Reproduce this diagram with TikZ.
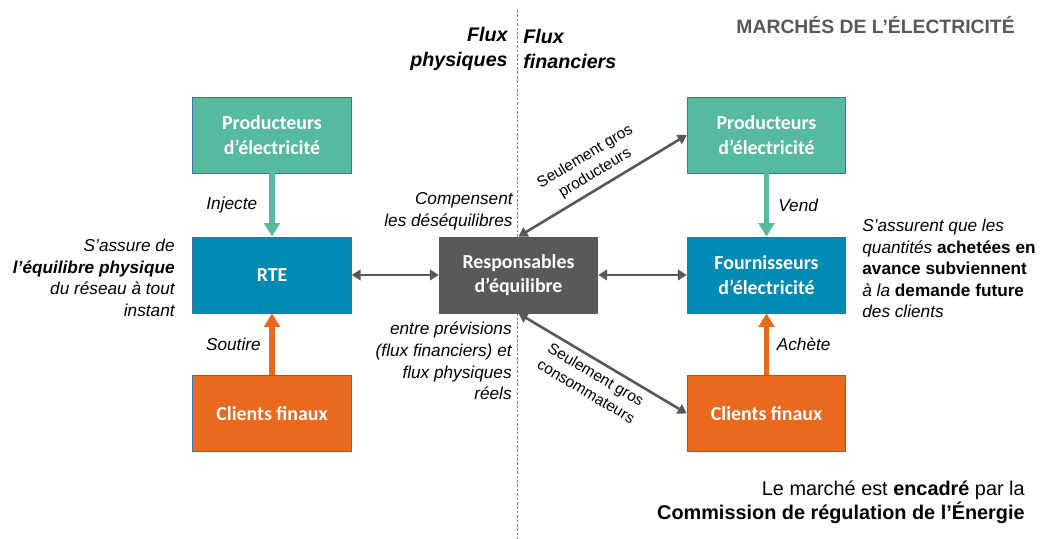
\documentclass[tikz,border=0pt]{standalone}
\usepackage{fontspec}
\setmainfont{Liberation Sans}
\newfontfamily\boxfont{Carlito}
\usetikzlibrary{arrows.meta}

\definecolor{vertprod}{HTML}{56BAA0}
\definecolor{bleurte}{HTML}{008BB4}
\definecolor{orangecli}{HTML}{E9691E}
\definecolor{grisresp}{HTML}{595959}
\definecolor{bordboite}{HTML}{41719C}

\tikzset{
  boite/.style={draw=bordboite, line width=0.5pt, minimum width=3.17cm, minimum height=1.52cm,
    text=white, align=center, font=\boxfont\bfseries\fontsize{11.3}{14}\selectfont},
  flux/.style={line width=3.4pt, -{Triangle[width=0.31cm,length=0.27cm]}},
  lien/.style={grisresp, line width=1.5pt,
    {Triangle[width=0.21cm,length=0.18cm]}-{Triangle[width=0.21cm,length=0.18cm]}},
  texte/.style={font=\itshape\fontsize{9.8}{12.3}\selectfont},
  bloc/.style={texte, inner sep=0pt},
  petit/.style={font=\fontsize{8.8}{11}\selectfont, align=center, sloped},
}

\begin{document}
\begin{tikzpicture}
  \useasboundingbox (0,0) rectangle (20.86,10.78);

  % separation flux physiques / financiers
  \draw[gray, line width=0.5pt, dash pattern=on 1.5pt off 1pt] (10.34,10.58) -- (10.34,0);

  \node[anchor=east, inner sep=0pt, text=grisresp, font=\bfseries\fontsize{11}{13}\selectfont] (titre) at (20.30,10.28) {MARCHÉS DE L’ÉLECTRICITÉ};
  \node[anchor=east, inner sep=0pt, align=right, font=\bfseries\itshape\fontsize{11.2}{14}\selectfont] (fluxphys) at (10.16,9.80) {Flux\\physiques};
  \node[anchor=west, inner sep=0pt, align=left, font=\bfseries\itshape\fontsize{11.2}{14}\selectfont] (fluxfin) at (10.46,9.80) {Flux\\financiers};

  % boites
  \node[boite, fill=vertprod] (prodG) at (5.44,8.08) {Producteurs\\d’électricité};
  \node[boite, fill=bleurte] (rte) at (5.44,5.28) {RTE};
  \node[boite, fill=orangecli] (cliG) at (5.44,2.51) {Clients finaux};
  \node[boite, fill=grisresp, draw=grisresp] (resp) at (10.37,5.28) {Responsables\\d’équilibre};
  \node[boite, fill=vertprod] (prodD) at (15.33,8.08) {Producteurs\\d’électricité};
  \node[boite, fill=bleurte] (four) at (15.33,5.28) {Fournisseurs\\d’électricité};
  \node[boite, fill=orangecli] (cliD) at (15.33,2.51) {Clients finaux};

  % fleches
  \draw[flux, vertprod] (prodG.south) -- (rte.north) node[midway, left=0.12cm, texte, text=black] {Injecte};
  \draw[flux, orangecli] (cliG.north) -- (rte.south) node[midway, left=0.05cm, texte, text=black] {Soutire};
  \draw[flux, vertprod] (prodD.south) -- (four.north) node[midway, right=0.06cm, texte, text=black] {Vend};
  \draw[flux, orangecli] (cliD.north) -- (four.south) node[midway, right=0.03cm, texte, text=black] {Achète};
  \draw[lien] (rte.east) -- (resp.west);
  \draw[lien] (resp.east) -- (four.west);
  \draw[lien] (resp.north) -- (prodD.west) node[midway, above, petit, text=black] {Seulement gros\\producteurs};
  \draw[lien] (resp.south) -- (cliD.west) node[midway, below, petit, text=black] {Seulement gros\\consommateurs};

  % textes
  \node[anchor=east, align=right, bloc] (roleRTE) at (3.50,5.22)
    {S’assure de\\\textbf{l’équilibre physique}\\du réseau à tout\\instant};
  \node[anchor=west, align=left, bloc] (roleFour) at (17.24,5.41)
    {S’assurent que les\\quantités \textbf{\upshape achetées en}\\\textbf{\upshape avance subviennent}\\à la \textbf{\upshape demande future}\\des clients};
  \node[anchor=east, align=right, bloc] (compense) at (10.26,6.56) {Compensent\\les déséquilibres};
  \node[anchor=east, align=right, bloc] (entre) at (10.24,3.56)
    {entre prévisions\\(flux financiers) et\\flux physiques\\réels};
  \node[anchor=east, align=right, inner sep=0pt, font=\fontsize{11.3}{14}\selectfont] (cre) at (20.50,0.73)
    {Le marché est \textbf{encadré} par la\\\textbf{Commission de régulation de l’Énergie}};
\end{tikzpicture}
\end{document}
